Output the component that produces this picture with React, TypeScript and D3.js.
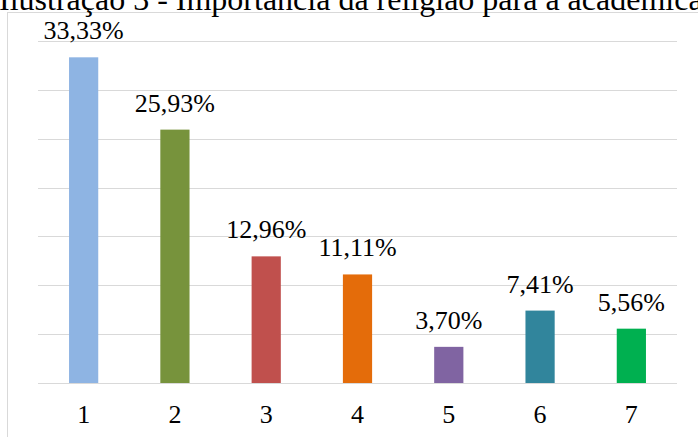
import React from 'react';
import * as d3 from 'd3';

// data
const categories = ['1', '2', '3', '4', '5', '6', '7'];
const values = [33.33, 25.93, 12.96, 11.11, 3.70, 7.41, 5.56];
const colors = ['#8EB4E3', '#77933C', '#C0504D', '#E46C0A', '#8064A2', '#31859C', '#00B050'];
const yTicks = [0, 5, 10, 15, 20, 25, 30, 35];
const title = 'Ilustração 3 - Importância da religião para a acadêmica';

// constants
const width = 698;
const height = 437;
const plot = { left: 38, right: 677, top: 41, bottom: 383 };
const font = "'Times New Roman', Tinos, 'Liberation Serif', 'DejaVu Serif', serif";

const fmt = (v: number) => v.toFixed(2).replace('.', ',') + '%';

const App = () => {
  const xScale = d3.scaleBand<string>()
    .domain(categories)
    .range([plot.left, plot.right])
    .paddingInner(0.68)
    .paddingOuter(0.34);
  const yScale = d3.scaleLinear()
    .domain([0, 35])
    .range([plot.bottom, plot.top]);

  const textStyle = { fontFamily: font };

  return (
    <div style={{ position: 'fixed', left: 0, top: 0 }}>
      <svg width={width} height={height} style={{ display: 'block', background: '#fff' }}>
        {/* chart frame */}
        <rect x={7.5} y={12.5} width={width} height={height} fill="#fff" stroke="#d9d9d9" strokeWidth={1} />
        <text x={-1} y={10} style={textStyle} fontSize={32} fill="#000">{title}</text>

        {/* gridlines */}
        {yTicks.map(t => (
          <line key={t} x1={plot.left} x2={plot.right}
            y1={Math.round(yScale(t)) + 0.5} y2={Math.round(yScale(t)) + 0.5}
            stroke="#d9d9d9" strokeWidth={1} />
        ))}

        {/* bars */}
        {values.map((v, i) => (
          <rect key={i} x={xScale(categories[i])} width={xScale.bandwidth()}
            y={yScale(v)} height={yScale(0) - yScale(v)} fill={colors[i]} />
        ))}

        {/* value labels */}
        {values.map((v, i) => (
          <text key={i} x={(xScale(categories[i]) ?? 0) + xScale.bandwidth() / 2} y={yScale(v) - 18}
            textAnchor="middle" style={textStyle} fontSize={26} fill="#000">{fmt(v)}</text>
        ))}

        {/* x axis labels */}
        {categories.map(c => (
          <text key={c} x={(xScale(c) ?? 0) + xScale.bandwidth() / 2} y={423}
            textAnchor="middle" style={textStyle} fontSize={26} fill="#000">{c}</text>
        ))}
      </svg>
    </div>
  );
};

export default App;
